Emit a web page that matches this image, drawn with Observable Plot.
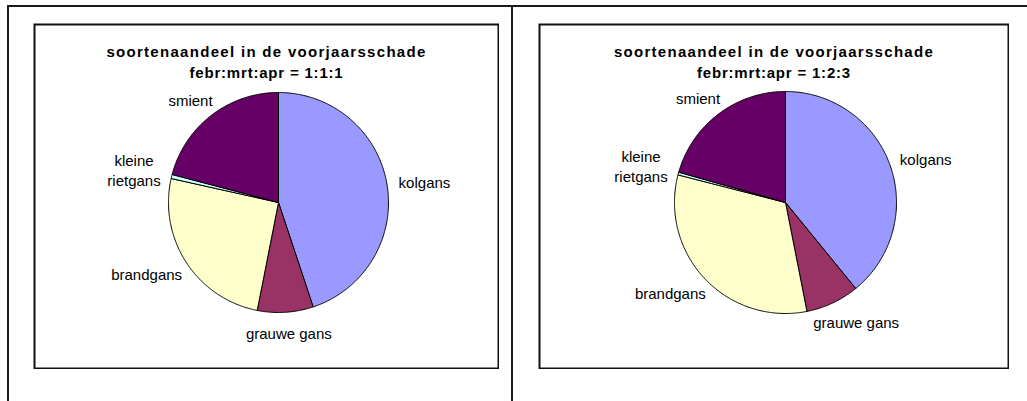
<!DOCTYPE html>
<html><head><meta charset="utf-8">
<script src="https://cdn.jsdelivr.net/npm/d3@7"></script>
<script src="https://cdn.jsdelivr.net/npm/@observablehq/plot@0.6"></script>
<style>
body{margin:0;background:#fff;font-family:"Liberation Sans",Arial,sans-serif}
#wrap{position:relative;width:1027px;height:401px;overflow:hidden;background:#fff}
.ln{position:absolute;background:#1a1a1a}
.panel{position:absolute}
.panel svg{display:block}
</style></head><body>
<div id="wrap">
<div class="ln" style="left:7px;top:5px;width:1020px;height:2px"></div>
<div class="ln" style="left:7px;top:5px;width:2px;height:396px"></div>
<div class="ln" style="left:511px;top:5px;width:2px;height:396px"></div>
<div id="p1" class="panel" style="left:33px;top:23px"></div>
<div id="p2" class="panel" style="left:538px;top:23px"></div>
</div>
<script>
// ---- data ----
const species = ["kolgans", "grauwe gans", "brandgans", "kleine rietgans", "smient"];
const labels = ["kolgans", "grauwe gans", "brandgans", "kleine\nrietgans", "smient"];
const share111 = [44.9, 8.2, 25.4, 0.6, 20.9];   // febr:mrt:apr = 1:1:1
const share123 = [39.1, 7.8, 32.1, 0.4, 20.6];   // febr:mrt:apr = 1:2:3
const titleLine1 = "soortenaandeel in de voorjaarsschade";
const titleLine2 = ["febr:mrt:apr = 1:1:1", "febr:mrt:apr = 1:2:3"];
const colors = ["#9999FF", "#993366", "#FFFFCC", "#CCFFFF", "#660066"];

const ctx = document.createElement("canvas").getContext("2d");
ctx.font = "15px 'Liberation Sans', Arial, sans-serif";
const measure = s => ctx.measureText(s).width;

function piePlot(values, title, {W, H, cx, cy, R}) {
  const rows = species.map((s, i) => ({species: s, label: labels[i], value: values[i]}));
  const arcs = d3.pie().sort(null).value(d => d.value)(rows);
  const poly = [];
  for (const a of arcs) {
    const sp = a.data.species;
    poly.push({species: sp, x: 0, y: 0});
    const n = Math.max(2, Math.ceil((a.endAngle - a.startAngle) / (Math.PI / 360)));
    for (let k = 0; k <= n; k++) {
      const t = a.startAngle + (a.endAngle - a.startAngle) * k / n;
      poly.push({species: sp, x: Math.sin(t), y: Math.cos(t)});
    }
    poly.push({species: sp, x: 0, y: 0});
  }
  const gap = 12 / R;
  const lab = arcs.map(a => {
    const m = (a.startAngle + a.endAngle) / 2, s = Math.sin(m), c = Math.cos(m);
    const lines = a.data.label.split("\n");
    const w = Math.max(...lines.map(measure));
    const h = lines.length * 17;
    return {text: a.data.label, x: (1 + gap) * s + s * w / 2 / R, y: (1 + gap) * c + c * h / 2 / R};
  });
  const svg = Plot.plot({
    width: W + 2, height: H + 2, margin: 1,
    style: {fontFamily: "'Liberation Sans', Arial, sans-serif", background: "white", color: "#000"},
    x: {domain: [-cx / R, (W - cx) / R], axis: null},
    y: {domain: [-(H - cy) / R, cy / R], axis: null},
    color: {domain: species, range: colors},
    marks: [
      Plot.line(poly, {x: "x", y: "y", z: "species", fill: "species", stroke: "#000", strokeWidth: 1, strokeLinejoin: "round", curve: "linear"}),
      Plot.text(lab, {x: "x", y: "y", text: "text", fontSize: 15, lineHeight: 1.33, textAnchor: "middle", lineAnchor: "middle", fill: "#000"}),
      Plot.text([title], {frameAnchor: "top", text: d => d, fontSize: 15, fontWeight: "bold", lineHeight: 1.42, dy: 17, fill: "#000"}),
      Plot.frame({stroke: "#111", strokeWidth: 2})
    ]
  });
  const tspans = d3.select(svg).selectAll("g[font-weight=bold] tspan");
  tspans.each(function(_, i) {
    this.style.letterSpacing = i === 0 ? "1.3px" : "0.8px";
  });
  return svg;
}

document.getElementById("p1").append(piePlot(share111, titleLine1 + "\n" + titleLine2[0], {W: 464, H: 344, cx: 244, cy: 178, R: 110}));
document.getElementById("p2").append(piePlot(share123, titleLine1 + "\n" + titleLine2[1], {W: 469, H: 344, cx: 246, cy: 178, R: 111}));
</script>
</body></html>
